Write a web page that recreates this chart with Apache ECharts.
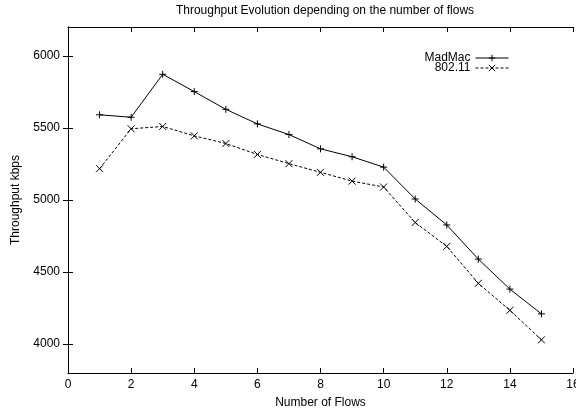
<!DOCTYPE html>
<html>
<head>
<meta charset="utf-8">
<script src="https://cdn.jsdelivr.net/npm/echarts@6/dist/echarts.min.js"></script>
<style>html,body{margin:0;padding:0;background:#fff;}#c{width:576px;height:409px;}</style>
</head>
<body>
<div id="c"></div>
<script>
const flows = [1,2,3,4,5,6,7,8,9,10,11,12,13,14,15];
const madmac = [5591,5574,5872,5752,5629,5528,5454,5355,5300,5228,5007,4827,4590,4382,4210];
const wifi = [5217,5494,5510,5445,5392,5316,5252,5192,5131,5090,4844,4678,4422,4235,4030];
const yTicks = [4000,4500,5000,5500,6000];
const seriesNames = ['MadMac','802.11'];
const titleText = 'Throughput Evolution depending on the number of flows';
const xName = 'Number of Flows';
const yName = 'Throughput kbps';

const FONT = 'Liberation Sans, Arial, sans-serif';
const FS = 12;
const plus = 'path://M0,5L10,5M5,0L5,10';
const cross = 'path://M0,0L10,10M10,0L0,10';

const chart = echarts.init(document.getElementById('c'), null, {renderer:'canvas'});
const axisLine = {show:true, lineStyle:{color:'#000', width:1}};
const tick = {show:true, inside:true, length:5, lineStyle:{color:'#000', width:1}};
chart.setOption({
  animation:false,
  backgroundColor:'#fff',
  title:{text:titleText, left:320, textAlign:'center', top:0,
    textStyle:{fontFamily:FONT, fontSize:FS, fontWeight:'normal', color:'#000'}},
  grid:{left:68, right:3, top:27, bottom:36, outerBoundsMode:'none', containLabel:false},
  legend:{
    right:62, top:47, orient:'vertical', align:'right', itemGap:-2,
    itemWidth:33, itemHeight:8,
    lineStyle:{width:1},
    itemStyle:{borderWidth:1},
    textStyle:{fontFamily:FONT, fontSize:FS, lineHeight:11, color:'#000', padding:[0,0,0,0]},
    data:seriesNames
  },
  xAxis:[
    {type:'value', min:0, max:16, interval:2, position:'bottom',
     axisLine:axisLine, axisTick:tick, splitLine:{show:false},
     axisLabel:{margin:6, fontFamily:FONT, fontSize:FS, color:'#000', hideOverlap:false},
     name:xName, nameLocation:'middle', nameGap:24,
     nameTextStyle:{fontFamily:FONT, fontSize:FS, color:'#000'}},
    {type:'value', min:0, max:16, interval:2, position:'top',
     axisLine:axisLine, axisTick:tick, splitLine:{show:false}, axisLabel:{show:false}}
  ],
  yAxis:[
    {type:'value', min:3800, max:6200, position:'left',
     axisLine:axisLine, splitLine:{show:false},
     axisTick:Object.assign({customValues:yTicks}, tick),
     axisLabel:{customValues:yTicks, margin:8, fontFamily:FONT, fontSize:FS, color:'#000',
       formatter:v=>String(v)},
     name:yName, nameLocation:'middle', nameGap:46, nameRotate:90,
     nameTextStyle:{fontFamily:FONT, fontSize:FS, color:'#000'}},
    {type:'value', min:3800, max:6200, position:'right',
     axisLine:axisLine, splitLine:{show:false},
     axisTick:Object.assign({customValues:yTicks}, tick),
     axisLabel:{show:false}}
  ],
  series:[
    {name:seriesNames[0], type:'line', data:flows.map((f,i)=>[f,madmac[i]]),
     symbol:plus, symbolSize:7, showAllSymbol:true,
     lineStyle:{color:'#000', width:1, type:'solid'},
     itemStyle:{color:'#000', borderColor:'#000', borderWidth:1}},
    {name:seriesNames[1], type:'line', data:flows.map((f,i)=>[f,wifi[i]]),
     symbol:cross, symbolSize:7, showAllSymbol:true,
     lineStyle:{color:'#000', width:1, type:[3,2]},
     itemStyle:{color:'#000', borderColor:'#000', borderWidth:1}}
  ]
});
</script>
</body>
</html>
